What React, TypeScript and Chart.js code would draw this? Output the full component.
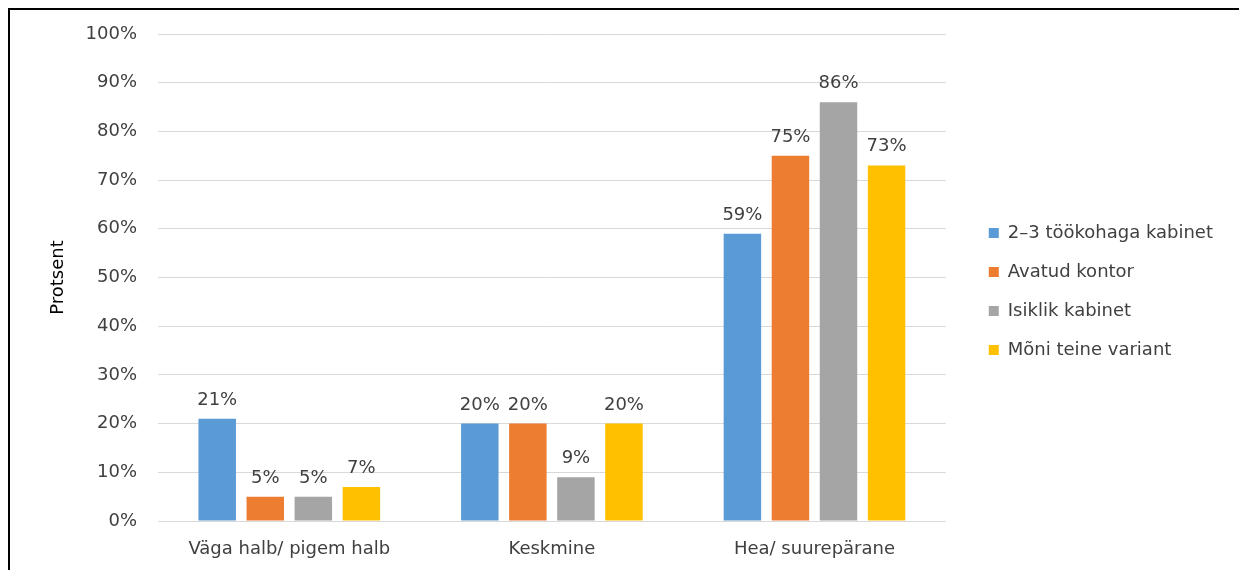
import React, { useEffect, useRef } from "react";
import { Chart, registerables } from "chart.js";

Chart.register(...registerables);

const categories = ["Väga halb/ pigem halb", "Keskmine", "Hea/ suurepärane"];
const seriesNames = ["2–3 töökohaga kabinet", "Avatud kontor", "Isiklik kabinet", "Mõni teine variant"];
const seriesColors = ["#5B9BD5", "#ED7D31", "#A5A5A5", "#FFC000"];
const kabinet23 = [21, 20, 59];
const avatudKontor = [5, 20, 75];
const isiklikKabinet = [5, 9, 86];
const moniTeine = [7, 20, 73];
const seriesValues = [kabinet23, avatudKontor, isiklikKabinet, moniTeine];
const yTicksMax = 100;
const yTicksStep = 10;
const yTitle = "Protsent";

const FONT = "'DejaVu Sans', sans-serif";
const TEXT = "#404040";

const dataLabels = {
  id: "dataLabels",
  afterDatasetsDraw(chart: any) {
    const ctx = chart.ctx;
    ctx.save();
    ctx.font = `18px ${FONT}`;
    ctx.fillStyle = TEXT;
    ctx.textAlign = "center";
    ctx.textBaseline = "alphabetic";
    chart.data.datasets.forEach((ds: any, di: number) => {
      const meta = chart.getDatasetMeta(di);
      meta.data.forEach((el: any, i: number) => {
        ctx.fillText(`${ds.data[i]}%`, el.x, el.y - 14);
      });
    });
    ctx.restore();
  },
};

export default function App() {
  const ref = useRef<HTMLCanvasElement | null>(null);
  useEffect(() => {
    document.documentElement.style.overflow = "hidden";
    if (!ref.current) return;
    const chart = new Chart(ref.current, {
      type: "bar",
      data: {
        labels: categories,
        datasets: seriesNames.map((name, i) => ({
          label: name,
          data: seriesValues[i],
          backgroundColor: seriesColors[i],
          borderWidth: 0,
          categoryPercentage: 0.732,
          barPercentage: 0.78,
        })),
      },
      options: {
        responsive: false,
        animation: false,
        layout: { padding: { top: 24, right: 16, bottom: 0, left: 0 } },
        plugins: {
          legend: {
            position: "right",
            align: "start",
            maxWidth: 400,
            title: {
              display: true,
              text: "",
              font: { family: FONT, size: 10 },
              padding: { top: 157, bottom: 0 },
            },
            labels: {
              boxWidth: 10,
              boxHeight: 10,
              padding: 21,
              color: TEXT,
              font: { family: FONT, size: 18 },
            },
          },
          tooltip: { enabled: false },
        },
        scales: {
          x: {
            grid: { display: false, drawTicks: false },
            border: { display: false },
            ticks: { color: TEXT, font: { family: FONT, size: 18 }, padding: 18, maxRotation: 0 },
            afterFit: (s: any) => {
              s.height = 49;
            },
          },
          y: {
            min: 0,
            max: yTicksMax,
            grid: {
              color: "#D9D9D9",
              drawTicks: true,
              tickLength: 21,
              tickColor: "rgba(0,0,0,0)",
              lineWidth: 1,
            },
            border: { display: false },
            ticks: {
              stepSize: yTicksStep,
              color: TEXT,
              padding: 0,
              font: { family: FONT, size: 18 },
              callback: (v: any) => `${v}%`,
            },
            title: {
              display: true,
              text: yTitle,
              color: "#000",
              font: { family: FONT, size: 18 },
              padding: { top: 38, bottom: 0 },
            },
            afterFit: (s: any) => {
              s.width = 148;
            },
          },
          yR: {
            type: "linear",
            position: "right",
            display: true,
            grid: { display: false, drawTicks: false },
            border: { display: false },
            ticks: { display: false },
            afterFit: (s: any) => {
              s.width = 22;
            },
          },
        },
      },
      plugins: [dataLabels],
    } as any);
    return () => chart.destroy();
  }, []);
  return (
    <div
      style={{
        width: 1239,
        height: 562,
        boxSizing: "border-box",
        borderTop: "2px solid #000",
        borderLeft: "2px solid #000",
        background: "#fff",
        overflow: "hidden",
      }}
    >
      <canvas ref={ref} width={1229} height={560} style={{ display: "block" }} />
    </div>
  );
}
